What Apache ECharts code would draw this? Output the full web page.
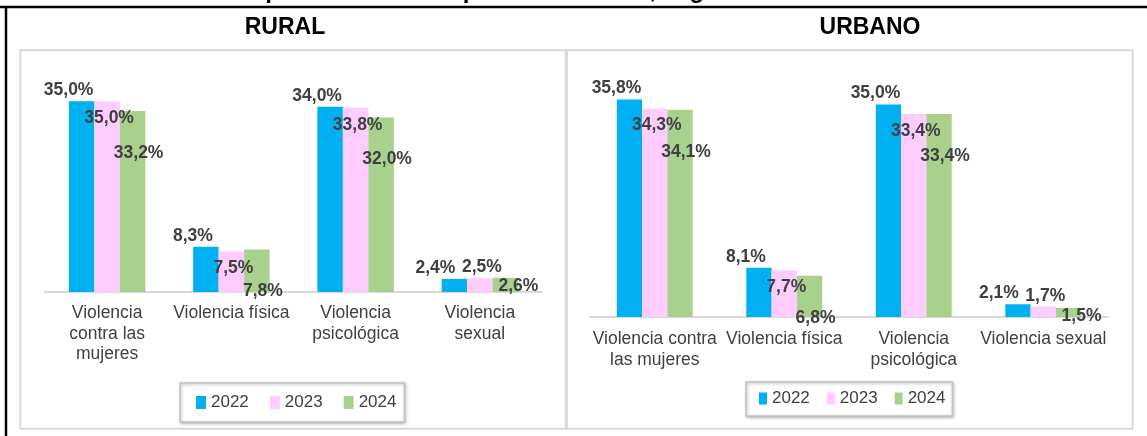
<!DOCTYPE html>
<html>
<head>
<meta charset="utf-8">
<script src="https://cdn.jsdelivr.net/npm/echarts@6/dist/echarts.min.js"></script>
<style>
html, body { margin: 0; padding: 0; background: #fff; }
#main { width: 1147px; height: 436px; }
</style>
</head>
<body>
<div id="main"></div>
<script>
// datos (porcentajes)
let years = ['2022', '2023', '2024']
let ruralCats = ['Violencia\ncontra las\nmujeres', 'Violencia física', 'Violencia\npsicológica', 'Violencia\nsexual']
let urbanCats = ['Violencia contra\nlas mujeres', 'Violencia física', 'Violencia\npsicológica', 'Violencia sexual']

let rural2022 = [35.0, 8.3, 34.0, 2.4]
let rural2023 = [35.0, 7.5, 33.8, 2.5]
let rural2024 = [33.2, 7.8, 32.0, 2.6]

let urban2022 = [35.8, 8.1, 35.0, 2.1]
let urban2023 = [34.3, 7.7, 33.4, 1.7]
let urban2024 = [34.1, 6.8, 33.4, 1.5]

let colors = ['#00b0f0', '#ffccff', '#a9d18e']
let font = 'Liberation Sans, Arial, sans-serif'
let txt = '#404040'

let pct = v => v.toFixed(1).replace('.', ',') + '%'

// posición de las etiquetas, como en el gráfico de Excel
let labelFor = (k, v) => {
    if (k === 0) return v < 5 ? { position: 'top', distance: 2, offset: [-19, 0] } : { position: 'top', distance: 2, offset: [-13, 0] }
    if (k === 1) return v < 5 ? { position: 'top', distance: 2, offset: [2, 0] } : { position: 'insideTop', offset: [2, 3] }
    return v < 5 ? { position: 'insideTop', offset: [13, -6] } : { position: 'insideTop', offset: [6, 28] }
}

let makeSeries = (groups, idx, barWidth) => groups.map((vals, k) => ({
    name: years[k],
    type: 'bar',
    xAxisIndex: idx,
    yAxisIndex: idx,
    barWidth: barWidth,
    barGap: '0%',
    itemStyle: { color: colors[k] },
    emphasis: { disabled: true },
    label: {
        show: true,
        color: txt,
        fontFamily: font,
        fontWeight: 'bold',
        fontSize: 17.5,
        formatter: p => pct(p.value)
    },
    data: vals.map(v => ({ value: v, label: labelFor(k, v) }))
}))

let xAxisFor = (idx, cats, margin) => ({
    gridIndex: idx,
    type: 'category',
    data: cats,
    axisTick: { show: false },
    axisLine: { lineStyle: { color: '#d9d9d9', width: 2 } },
    axisLabel: { interval: 0, color: txt, fontFamily: font, fontSize: 17.5, lineHeight: 20.5, margin: margin }
})

let legendFor = (left, top, iw, ih, gap, padding) => ({
    data: years,
    left: left,
    top: top,
    icon: 'rect',
    itemWidth: iw,
    itemHeight: ih,
    itemGap: gap,
    padding: padding,
    selectedMode: false,
    backgroundColor: '#fff',
    borderColor: '#c4c4c4',
    borderWidth: 1.5,
    shadowColor: 'rgba(0,0,0,0.3)',
    shadowBlur: 3,
    shadowOffsetX: 1,
    shadowOffsetY: 1,
    textStyle: { color: txt, fontFamily: font, fontSize: 17 }
})

let myChart = echarts.init(document.getElementById('main'))

myChart.setOption({
    animation: false,
    grid: [
        { left: 45, top: 74, width: 497, height: 218 },
        { left: 590, top: 74, width: 518, height: 243 }
    ],
    xAxis: [xAxisFor(0, ruralCats, 11), xAxisFor(1, urbanCats, 12)],
    yAxis: [
        { gridIndex: 0, type: 'value', min: 0, max: 40, show: false },
        { gridIndex: 1, type: 'value', min: 0, max: 40, show: false }
    ],
    legend: [
        legendFor(180, 383, 10, 13, 21, [11, 8, 11, 16]),
        legendFor(746, 382, 8, 12, 17, [8, 7, 9, 13])
    ],
    graphic: [
        { type: 'text', x: 212, y: -9, style: { text: 'Comparación de los tipos de violencia, según área de residencia', font: 'bold 24px ' + font, fill: '#000', align: 'left', verticalAlign: 'middle' } },
        { type: 'line', shape: { x1: 0, y1: 7, x2: 1147, y2: 7 }, style: { stroke: '#000', lineWidth: 2.5 } },
        { type: 'line', shape: { x1: 6, y1: 7, x2: 6, y2: 436 }, style: { stroke: '#000', lineWidth: 2.5 } },
        { type: 'rect', shape: { x: 20.3, y: 50.3, width: 1112.4, height: 378.4 }, style: { fill: null, stroke: '#d9d9d9', lineWidth: 2 } },
        { type: 'line', shape: { x1: 566.3, y1: 50, x2: 566.3, y2: 429 }, style: { stroke: '#d9d9d9', lineWidth: 3.3 } },
        { type: 'text', x: 285, y: 28, style: { text: 'RURAL', font: 'bold 23px ' + font, fill: '#000', align: 'center', verticalAlign: 'middle' } },
        { type: 'text', x: 870, y: 28, style: { text: 'URBANO', font: 'bold 23px ' + font, fill: '#000', align: 'center', verticalAlign: 'middle' } }
    ],
    series: [
        ...makeSeries([rural2022, rural2023, rural2024], 0, 25.5),
        ...makeSeries([urban2022, urban2023, urban2024], 1, 25.3)
    ]
})
</script>
</body>
</html>
